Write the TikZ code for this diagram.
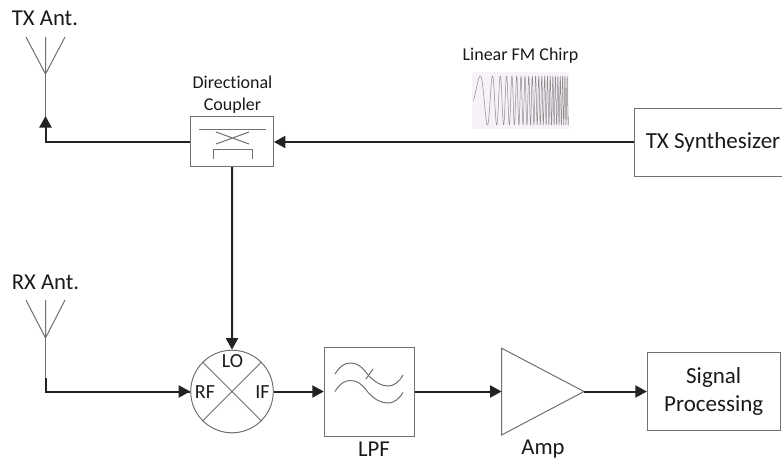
\documentclass[tikz,border=0pt]{standalone}
\usepackage{fontspec}
\setmainfont[Ligatures=NoCommon]{Carlito}
\usetikzlibrary{arrows.meta,calc}
\definecolor{wire}{HTML}{222222}
\definecolor{thin}{HTML}{707070}
\definecolor{chirpbg}{HTML}{F8F1F8}
\definecolor{chirpline}{HTML}{8C8C8C}
\definecolor{ink}{HTML}{1A1A1A}
\tikzset{
  x=1pt,y=-1pt,
  blockbox/.style={draw=thin,line width=1pt,fill=white,inner sep=0pt,text=ink,align=center},
  sym/.style={draw=thin,line width=1pt},
  wirea/.style={draw=wire,line width=2pt,-{Triangle[length=11.5pt,width=12pt]}},
  wiren/.style={draw=wire,line width=2pt},
  stem/.style={draw=thin,line width=1pt},
  lab/.style={inner sep=0pt,text=ink,align=center},
  biglab/.style={lab,font=\fontsize{22.7}{26}\selectfont},
  smalllab/.style={lab,font=\fontsize{18}{22}\selectfont},
  portlab/.style={lab,font=\fontsize{20}{22}\selectfont},
}
\begin{document}
\begin{tikzpicture}
\clip (0,0) rectangle (782,461);
\fill[white] (0,0) rectangle (782,461);
% coordinates for antennas
\coordinate (txbase) at (45.5,74);
\coordinate (txelbow) at (45.5,142);
\coordinate (rxbase) at (45.5,338);
\coordinate (rxjoin) at (45.5,378);
\coordinate (rxelbow) at (45.5,391.5);
% blocks
\node[blockbox,minimum width=82.5pt,minimum height=50pt] (coupler) at (232.2,141.5) {};
\node[blockbox,minimum width=156pt,minimum height=68pt,font=\fontsize{23}{27}\selectfont] (synth) at (712,142) {\hspace*{2pt}TX Synthesizer};
\node[blockbox,circle,minimum size=82.6pt] (mixer) at (232,391.5) {};
\node[blockbox,minimum width=90.2pt,minimum height=89pt] (lpf) at (369.4,391.5) {};
\node[blockbox,minimum width=132.7pt,minimum height=77.7pt,font=\fontsize{23}{28}\selectfont] (proc) at (713.7,391.5) {\raisebox{0pt}{Signal}\\Processing};
\coordinate (ampin) at (501.6,391.5);
\coordinate (ampout) at (584,391.5);
\draw[sym,fill=white] (501.6,348.2) -- (ampout) -- (501.6,435) -- cycle;
% antennas
\draw[sym] (26,37) -- (txbase) -- (65,37) (txbase) -- (45.5,37);
\draw[sym] (26,300) -- (rxbase) -- (65,300) (rxbase) -- (45.5,300);
\draw[stem] (txbase) -- (45.5,118);
\draw[stem] (rxbase) -- (rxjoin);
% coupler symbol
\draw[sym] (199,129) -- (265.5,129);
\draw[sym] (216,132) -- (249,144) (216,144) -- (249,132);
\draw[sym] (213.5,159) -- (213.5,149) -- (252,149) -- (252,159);
% mixer cross
\draw[sym] (mixer.45) -- (mixer.225) (mixer.135) -- (mixer.315);
% filter symbol
\draw[sym] (335,374) .. controls (340,366) and (345,363) .. (350,363) .. controls (360,363) and (364,370) .. (369,376) .. controls (375,382) and (381,386) .. (388,386) .. controls (394,386) and (399,382) .. (403,375);
\draw[sym] (335,391.5) .. controls (340,383.5) and (345,380.5) .. (350,380.5) .. controls (360,380.5) and (364,387.5) .. (369,393.5) .. controls (375,399.5) and (381,403) .. (388,403) .. controls (394,403) and (399,399) .. (403,392.5);
\draw[sym] (373,369) -- (366,379);
% chirp
\fill[chirpbg] (472,72) rectangle (569,129);
\draw[draw=chirpline,line width=0.5pt,line join=round] plot[domain=0:95,samples=1000] ({473.5+\x},{100.5-24.5*sin(360*(0.022*\x+0.0023*\x*\x))});
% connectors
\draw[wirea] (synth.west) -- (coupler.east |- synth.west);
\draw[wirea] (coupler.west |- txelbow) -- (txelbow) -- (txbase |- coupler.north);
\draw[wirea] (coupler.south) -- (mixer.north);
\draw[wiren] (rxjoin) -- (rxelbow) -- (rxelbow -| mixer.west);
\draw[wirea] (rxelbow) -- (rxelbow -| mixer.west);
\draw[wirea] (mixer.east) -- (lpf.west);
\draw[wirea] (lpf.east) -- (ampin);
\draw[wirea] (ampout) -- (proc.west);
% labels
\node[biglab] (txlab) at (45,18.5) {TX Ant.};
\node[biglab] (rxlab) at (45.5,282) {RX Ant.};
\node[smalllab] (dclab) at (232.5,94.5) {Directional\\Coupler};
\node[smalllab] (chirplab) at (520.5,56) {Linear FM Chirp};
\node[portlab] (lolab) at (232.5,361.5) {LO};
\node[portlab] (rflab) at (205,392) {RF};
\node[portlab] (iflab) at (262.5,392) {IF};
\node[biglab] (lpflab) at (374,449.5) {LPF};
\node[biglab] (amplab) at (543,449.5) {Amp};
\end{tikzpicture}
\end{document}
